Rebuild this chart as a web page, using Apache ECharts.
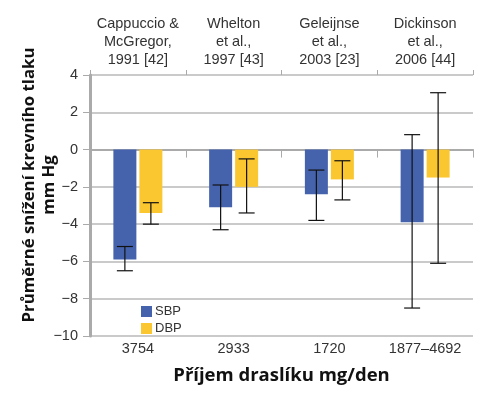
<!DOCTYPE html>
<html>
<head>
<meta charset="utf-8">
<script src="https://cdn.jsdelivr.net/npm/echarts@6/dist/echarts.min.js"></script>
<style>html,body{margin:0;padding:0;background:#fff;}#c{width:502px;height:395px;}</style>
</head>
<body>
<div id="c"></div>
<script>
var studies = ['Cappuccio &\nMcGregor,\n1991 [42]', 'Whelton\net al.,\n1997 [43]', 'Geleijnse\net al.,\n2003 [23]', 'Dickinson\net al.,\n2006 [44]'];
var intakes = ['3754', '2933', '1720', '1877\u20134692'];
var sbp = [-5.9, -3.1, -2.4, -3.9];
var dbp = [-3.4, -2.0, -1.6, -1.5];
var sbpErrHigh = [-5.2, -1.9, -1.1, 0.8];
var sbpErrLow = [-6.5, -4.3, -3.8, -8.5];
var dbpErrHigh = [-2.85, -0.5, -0.6, 3.05];
var dbpErrLow = [-4.0, -3.4, -2.7, -6.1];
var yTicks = [-10, -8, -6, -4, -2, 0, 2, 4];

var BAR_W = 23, BAR_GAP = 3;
var font = 'Liberation Sans, Arial, sans-serif';
var boldFont = '"Open Sans", "Noto Sans", sans-serif';

function errSeries(low, high, side) {
  return {
    type: 'custom',
    xAxisIndex: 0,
    z: 10,
    data: low.map(function (l, i) { return [i, l, high[i]]; }),
    renderItem: function (params, api) {
      var off = side * (BAR_W + BAR_GAP) / 2;
      var p1 = api.coord([api.value(0), api.value(1)]);
      var p2 = api.coord([api.value(0), api.value(2)]);
      var x = p1[0] + off, cw = 8;
      var st = { stroke: '#111', lineWidth: 1.2 };
      return {
        type: 'group',
        children: [
          { type: 'line', shape: { x1: x, y1: p1[1], x2: x, y2: p2[1] }, style: st },
          { type: 'line', shape: { x1: x - cw, y1: p1[1], x2: x + cw, y2: p1[1] }, style: st },
          { type: 'line', shape: { x1: x - cw, y1: p2[1], x2: x + cw, y2: p2[1] }, style: st }
        ]
      };
    }
  };
}

var chart = echarts.init(document.getElementById('c'));
chart.setOption({
  animation: false,
  backgroundColor: '#fff',
  grid: { left: 90, right: 29, top: 75, bottom: 59 },
  legend: {
    orient: 'vertical', left: 136, top: 300,
    itemWidth: 11, itemHeight: 11, itemGap: 4,
    icon: 'rect',
    data: ['SBP', 'DBP'],
    textStyle: { fontFamily: font, fontSize: 13, color: '#333', padding: [0, 0, 0, -2] }
  },
  xAxis: [{
    type: 'category', position: 'bottom', data: intakes,
    axisLine: { show: true, lineStyle: { color: '#aaa', width: 2 } },
    axisTick: { show: true, length: 8, lineStyle: { color: '#aaa', width: 1 } },
    axisLabel: { interval: 0, fontFamily: font, fontSize: 14.5, color: '#333', margin: 5 },
    name: 'P\u0159\u00edjem drasl\u00edku mg/den', nameLocation: 'middle', nameGap: 30,
    nameTextStyle: { fontFamily: boldFont, fontWeight: 'bold', fontSize: 18.5, color: '#111' }
  }, {
    type: 'category', position: 'top', data: studies,
    axisLine: { show: false },
    axisTick: { show: true, length: 5, lineStyle: { color: '#aaa', width: 1 } },
    axisLabel: { interval: 0, fontFamily: font, fontSize: 14.5, color: '#333', margin: 6, lineHeight: 18 }
  }],
  yAxis: {
    type: 'value', min: -10, max: 4, interval: 2,
    axisLine: { show: true, lineStyle: { color: '#aaa', width: 3 } },
    axisTick: { show: true, length: 7, lineStyle: { color: '#aaa', width: 1 } },
    axisLabel: {
      fontFamily: font, fontSize: 14.5, color: '#333', margin: 12,
      formatter: function (v) { return yTicks.indexOf(v) >= 0 ? String(v).replace('-', '\u2212') : ''; }
    },
    splitLine: { show: true, lineStyle: { color: '#b8b8b8', width: 1.5 } }
  },
  graphic: [{
    type: 'text', x: 39, y: 185, rotation: Math.PI / 2,
    style: {
      text: 'Pr\u016fm\u011brn\u00e9 sn\u00ed\u017een\u00ed krevn\u00edho tlaku\nmm Hg',
      align: 'center', verticalAlign: 'middle',
      fontFamily: boldFont, fontWeight: 'bold', fontSize: 16.8, lineHeight: 20, fill: '#111'
    }
  }],
  series: [
    { name: 'SBP', type: 'bar', data: sbp, barWidth: BAR_W, barGap: (BAR_GAP / BAR_W * 100) + '%', itemStyle: { color: '#4563ad' } },
    { name: 'DBP', type: 'bar', data: dbp, barWidth: BAR_W, itemStyle: { color: '#fbc730' } },
    errSeries(sbpErrLow, sbpErrHigh, -1),
    errSeries(dbpErrLow, dbpErrHigh, 1)
  ]
});
</script>
</body>
</html>
